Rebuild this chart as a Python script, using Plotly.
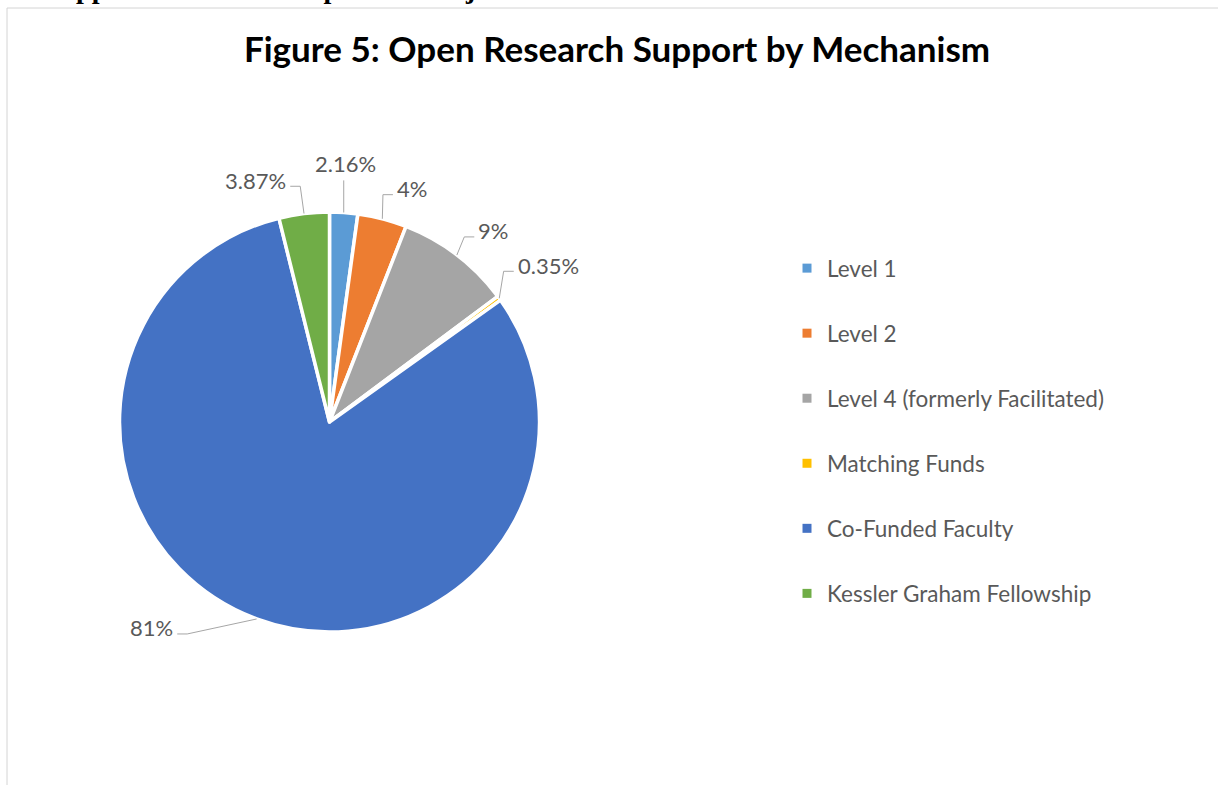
import math
import plotly.graph_objects as go

# chart data
labels = ["Level 1", "Level 2", "Level 4 (formerly Facilitated)",
          "Matching Funds", "Co-Funded Faculty", "Kessler Graham Fellowship"]
shares = [2.16, 3.78, 8.86, 0.35, 80.98, 3.87]
label_text = ["2.16%", "4%", "9%", "0.35%", "81%", "3.87%"]
colors = ["#5B9BD5", "#ED7D31", "#A5A5A5", "#FFC000", "#4472C4", "#70AD47"]

W, H = 1218, 785
CX, CY, R = 329.5, 422, 210  # pie centre / radius in px

# data label placement: angular nudge (deg) from slice middle, distance from centre (px)
nudge = [-0.5, 1.0, 0.7, -3.2, 15.4, -2.5]
dist = [242, 236, 235, 238, 261, 239]


def px(x, y):
    return x / W, 1 - y / H


fig = go.Figure()
fig.add_trace(go.Pie(
    labels=labels, values=shares, sort=False, direction="clockwise", rotation=0,
    marker=dict(colors=colors, line=dict(color="white", width=3.5)),
    textinfo="none", hoverinfo="label+percent", showlegend=False,
    domain=dict(x=[(CX - R) / W, (CX + R) / W], y=[1 - (CY + R) / H, 1 - (CY - R) / H]),
))

# legend entries (one group each so the spacing can be opened up)
for name, c in zip(labels, colors):
    fig.add_trace(go.Scatter(x=[None], y=[None], mode="markers", name=name, legendgroup=name,
                             marker=dict(symbol="square", size=9, color=c)))

# data labels with leader lines
total = sum(shares)
cum = 0
shapes = []
annotations = []
for i, s in enumerate(shares):
    mid = math.radians((cum + s / 2) / total * 360)
    cum += s
    ex, ey = CX + R * math.sin(mid), CY - R * math.cos(mid)
    a = mid + math.radians(nudge[i])
    hx, hy = CX + dist[i] * math.sin(a), CY - dist[i] * math.cos(a)
    if abs(hx - ex) < 6:
        pts = [(ex, ey), (ex, hy)]
        ann = dict(x=px(ex + 1.5, 0)[0], y=px(0, hy - 1)[1], xanchor="center", yanchor="bottom")
    elif hx > ex:
        pts = [(ex, ey), (hx - 10, hy), (hx, hy)]
        ann = dict(x=px(hx + 2, 0)[0], y=px(0, hy - 6)[1], xanchor="left", yanchor="middle")
    else:
        pts = [(ex, ey), (hx + 10, hy), (hx, hy)]
        ann = dict(x=px(hx - 2, 0)[0], y=px(0, hy - 6)[1], xanchor="right", yanchor="middle")
    path = "M " + " L ".join("%.4f,%.4f" % px(x, y) for x, y in pts)
    shapes.append(dict(type="path", xref="paper", yref="paper", path=path,
                       line=dict(color="#A6A6A6", width=1)))
    annotations.append(dict(text=label_text[i], xref="paper", yref="paper", showarrow=False,
                            font=dict(family="Lato", size=22, color="#595959"), **ann))

# chart frame
shapes.append(dict(type="rect", xref="paper", yref="paper", x0=7 / W, x1=1.2, y0=-0.2, y1=1 - 8 / H,
                   line=dict(color="#D4D4D4", width=1)))

# cropped document text above the chart
annotations.append(dict(text="<b>See Appendix H: List of Open SSI Projects</b>", xref="paper", yref="paper",
                        x=8 / W, y=1 - 6 / H, xanchor="left", yanchor="bottom", showarrow=False,
                        font=dict(family="Liberation Serif", size=28, color="black")))

fig.update_layout(
    width=W, height=H, margin=dict(l=0, r=0, t=0, b=0),
    paper_bgcolor="white", plot_bgcolor="white",
    title=dict(text="<b>Figure 5: Open Research Support by Mechanism</b>", x=617 / W, xanchor="center",
               y=1 - 50 / H, yanchor="middle", font=dict(family="Lato", size=35, color="black")),
    xaxis=dict(visible=False), yaxis=dict(visible=False),
    legend=dict(x=787 / W, xanchor="left", y=1 - 247 / H, yanchor="top",
                font=dict(family="Lato", size=22.5, color="#595959"),
                traceorder="grouped", tracegroupgap=32.8, bgcolor="rgba(0,0,0,0)"),
    shapes=shapes, annotations=annotations,
)

fig.write_html("out.html", config={"displayModeBar": False},
               post_script="document.body.style.margin='0';")
